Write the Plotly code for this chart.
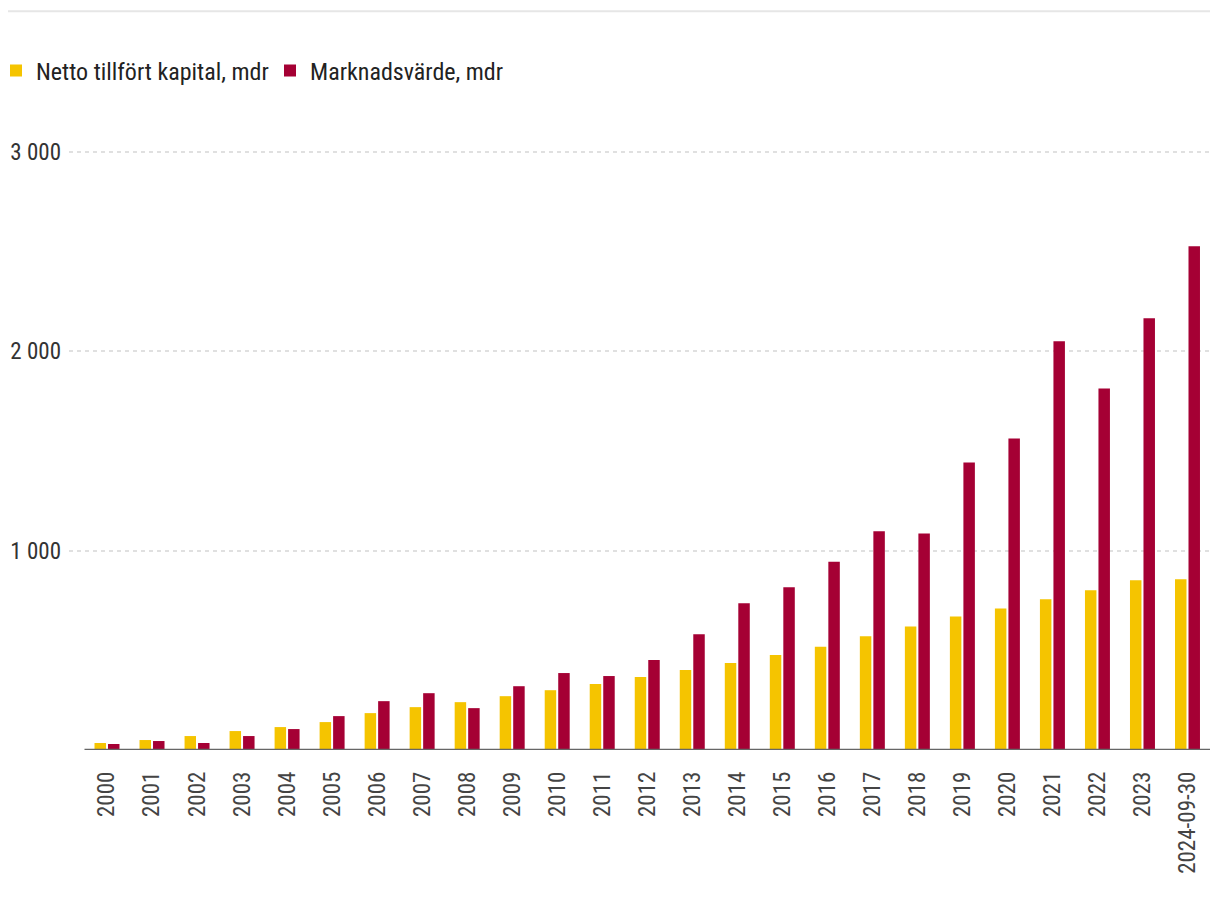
import plotly.graph_objects as go

categories = ["2000", "2001", "2002", "2003", "2004", "2005", "2006", "2007", "2008",
              "2009", "2010", "2011", "2012", "2013", "2014", "2015", "2016", "2017",
              "2018", "2019", "2020", "2021", "2022", "2023", "2024-09-30"]
netto = [35, 50, 70, 95, 115, 140, 185, 215, 240, 270, 300, 331, 366, 401, 436,
         476, 518, 570, 620, 670, 710, 756, 801, 851, 857]
marknad = [30, 45, 35, 70, 105, 170, 245, 285, 210, 320, 386, 371, 451, 581, 736,
           816, 944, 1097, 1086, 1442, 1563, 2050, 1813, 2166, 2527]
y_ticks = [1000, 2000, 3000]
y_ticktext = ["1 000", "2 000", "3 000"]

FONT = "Liberation Sans Narrow, Roboto Condensed, Arial Narrow, sans-serif"
YELLOW = "#F5C400"
RED = "#A50034"

fig = go.Figure()
fig.add_trace(go.Bar(x=categories, y=netto, name="Netto tillfört kapital, mdr",
                     marker=dict(color=YELLOW, line=dict(width=0))))
fig.add_trace(go.Bar(x=categories, y=marknad, name="Marknadsvärde, mdr",
                     marker=dict(color=RED, line=dict(width=0))))

fig.update_layout(
    width=1212, height=908,
    margin=dict(l=61, r=10, t=134, b=166, autoexpand=False),
    paper_bgcolor="white", plot_bgcolor="white",
    barmode="group", bargap=0.4, bargroupgap=0.15,
    font=dict(family=FONT, size=24, color="#222"),
    showlegend=True,
    legend=dict(orientation="h", xref="container", yref="container",
                x=0, xanchor="left", y=1 - 63 / 908, yanchor="middle",
                indentation=-12, entrywidth=241,
                font=dict(family=FONT, size=24, color="#222"),
                itemclick=False, itemdoubleclick=False, bgcolor="rgba(0,0,0,0)"),
    xaxis=dict(type="category", range=[-0.844, 24.5], showgrid=False, showline=False,
               zeroline=False, tickangle=-90, ticks="", ticklabelstandoff=16,
               automargin=False,
               tickfont=dict(family=FONT, size=23, color="#444")),
    yaxis=dict(range=[0, 3050], tickvals=y_ticks, ticktext=y_ticktext,
               showgrid=True, gridcolor="#e0e0e0", gridwidth=1.5, griddash="4px,4px",
               zeroline=False, showline=False, ticks="", ticklabelstandoff=7,
               automargin=False,
               tickfont=dict(family=FONT, size=23, color="#333")),
    shapes=[
        dict(type="line", xref="x", yref="y", x0=-0.5, x1=24.5, y0=0, y1=0,
             line=dict(color="#666", width=2.5), layer="above"),
        dict(type="line", xref="paper", yref="paper", x0=-0.054, x1=1.0, y0=1.215, y1=1.215,
             line=dict(color="#e6e6e6", width=2), layer="above"),
    ],
)

fig.write_html("out.html")
